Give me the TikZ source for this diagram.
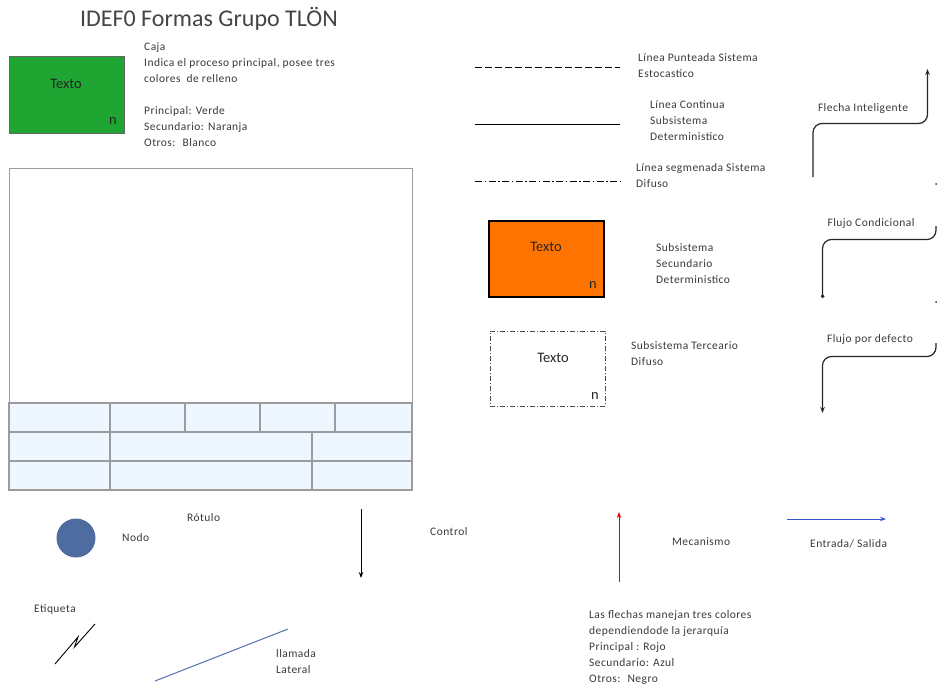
\documentclass[tikz,border=0pt]{standalone}
\usepackage{fontspec}
\setmainfont{Carlito}
\newfontfamily\labelfont[LetterSpace=4]{Carlito}
\usetikzlibrary{arrows.meta}
\definecolor{verde}{HTML}{1FA531}
\definecolor{naranja}{HTML}{FF7400}
\definecolor{celda}{HTML}{EEF6FF}
\definecolor{borde}{HTML}{9C9C9C}
\definecolor{txtgray}{HTML}{3A3A3A}
\definecolor{titlegray}{HTML}{454545}
\definecolor{nodoazul}{HTML}{4E6C9F}
\definecolor{azul}{HTML}{3556CC}
\definecolor{llamada}{HTML}{5571B2}
\definecolor{rojo}{HTML}{E80000}
\begin{document}
\begin{tikzpicture}[x=1pt,y=-1pt,
  lbl/.style={font=\labelfont\fontsize{11.5}{16}\selectfont, text=txtgray, inner sep=0pt, align=left, anchor=west},
  boxtxt/.style={font=\fontsize{14.5}{16}\selectfont, text=black!85, inner sep=0pt},
  arr/.style={line width=1pt, -{Stealth[length=6pt,width=4.5pt]}},
  smart/.style={line width=1.2pt, draw=black!85, rounded corners=9pt},
  legend/.style={line width=1pt, draw=black},
  cell/.style={draw=borde, line width=1.3pt, fill=celda},
  boxshape/.style={minimum width=115pt, minimum height=77pt, anchor=north west, inner sep=0pt}]
\useasboundingbox[fill=white] (0,0) rectangle (937,688);

% title
\node[font=\fontsize{24}{26}\selectfont, text=titlegray] (title) at (209,19) {IDEF0 Formas Grupo TLÖN};

% main box (green)
\node[boxshape, draw=black!60, line width=0.8pt, fill=verde] (caja) at (9,56) {};
\node[boxtxt] (cajaT) at (66,84) {Texto};
\node[boxtxt] (cajaN) at (113,121) {n};
\node[lbl] (cajaL) at (144,95) {Caja\\Indica el proceso principal, posee tres\\colores \ de relleno\\[16pt]Principal: Verde\\Secundario: Naranja\\Otros: \ Blanco};

% frame with title block
\draw[draw=borde, line width=1pt] (9,168) rectangle (412,490);
\draw[cell] (9,403) rectangle (110,432);
\draw[cell] (110,403) rectangle (185,432);
\draw[cell] (185,403) rectangle (260,432);
\draw[cell] (260,403) rectangle (335,432);
\draw[cell] (335,403) rectangle (412,432);
\draw[cell] (9,432) rectangle (110,461);
\draw[cell] (110,432) rectangle (312,461);
\draw[cell] (312,432) rectangle (412,461);
\draw[cell] (9,461) rectangle (110,490);
\draw[cell] (110,461) rectangle (312,490);
\draw[cell] (312,461) rectangle (412,490);

% line styles legend
\coordinate (d0) at (475,67);  \coordinate (d1) at (620,67);
\draw[legend, dash pattern=on 7pt off 3pt] (d0) -- (d1);
\node[lbl] (dL) at (638,66) {Línea Punteada Sistema\\Estocastico};
\coordinate (c0) at (475,124); \coordinate (c1) at (620,124);
\draw[legend] (c0) -- (c1);
\node[lbl] (cL) at (650,121) {Línea Continua\\Subsistema\\Deterministico};
\coordinate (s0) at (475,181); \coordinate (s1) at (620,181);
\draw[legend, dash pattern=on 7pt off 2.5pt on 1.5pt off 2.5pt] (s0) -- (s1);
\node[lbl] (sL) at (636,176) {Línea segmenada Sistema\\Difuso};

% secondary box (orange)
\node[boxshape, minimum height=76pt, draw=black, line width=2pt, fill=naranja] (sub) at (488,220) {};
\node[boxtxt] (subT) at (546,247) {Texto};
\node[boxtxt] (subN) at (593,285) {n};
\node[lbl] (subL) at (656,264) {Subsistema\\Secundario\\Deterministico};

% tertiary box (dash-dot)
\node[boxshape, minimum height=75pt, draw=black!70, line width=0.8pt, dash pattern=on 5pt off 2pt on 1pt off 2pt] (ter) at (490,331) {};
\node[boxtxt] (terT) at (553,358) {Texto};
\node[boxtxt] (terN) at (595,396) {n};
\node[lbl] (terL) at (631,354) {Subsistema Terceario\\Difuso};

% smart arrows
\coordinate (fi0) at (813,177); \coordinate (fi1) at (927.5,69);
\draw[smart, -{Stealth[length=6pt,width=4.5pt]}] (fi0) |- (870,123.5) -| (fi1);
\node[lbl, anchor=center] (fiL) at (863,108) {Flecha Inteligente};

\coordinate (fc0) at (936,226); \coordinate (fc1) at (822.5,298);
\draw[smart, -{Circle[length=3.5pt]}] (fc0) |- (880,239.5) -| (fc1);
\node[lbl, anchor=center] (fcL) at (871,223) {Flujo Condicional};

\coordinate (fd0) at (936,343); \coordinate (fd1) at (822.5,413);
\draw[smart, -{Stealth[length=6pt,width=4.5pt]}] (fd0) |- (880,356.5) -| (fd1);
\node[lbl, anchor=center] (fdL) at (870,339) {Flujo por defecto};

\fill[black!80] (936,184) circle (1pt);
\fill[black!80] (936,302) circle (1pt);

% node, label, arrows
\node[circle, fill=nodoazul, minimum size=39pt, inner sep=0pt] (nodo) at (76,538) {};
\node[lbl] (nodoL) at (122,538) {Nodo};
\node[lbl] (rotulo) at (187,518) {Rótulo};

\coordinate (ct0) at (361,509); \coordinate (ct1) at (361,578);
\draw[arr, black] (ct0) -- (ct1);
\node[lbl] (ctL) at (430,532) {Control};

\coordinate (me0) at (619,582); \coordinate (me1) at (619,512);
\draw[arr, rojo] (me0) -- (me1);
\node[lbl] (meL) at (672,542) {Mecanismo};

\coordinate (es0) at (787,519); \coordinate (es1) at (886,519);
\draw[arr, azul] (es0) -- (es1);
\node[lbl] (esL) at (810,544) {Entrada/ Salida};

% tag and callout
\node[lbl] (etq) at (34,609) {Etiqueta};
\coordinate (z0) at (55,664); \coordinate (z1) at (78,637);
\coordinate (z2) at (74.5,647); \coordinate (z3) at (95,624);
\draw[line width=0.9pt, black] (z0) -- (z1) -- (z2) -- (z3);

\coordinate (ll0) at (155,681); \coordinate (ll1) at (288,629);
\draw[line width=1pt, llamada] (ll0) -- (ll1);
\node[lbl] (llL) at (276,662) {llamada\\Lateral};

\node[lbl] (nota) at (589,647) {Las flechas manejan tres colores\\dependiendode la jerarquía\\Principal : Rojo\\Secundario: Azul\\Otros: \ Negro};
\end{tikzpicture}
\end{document}
